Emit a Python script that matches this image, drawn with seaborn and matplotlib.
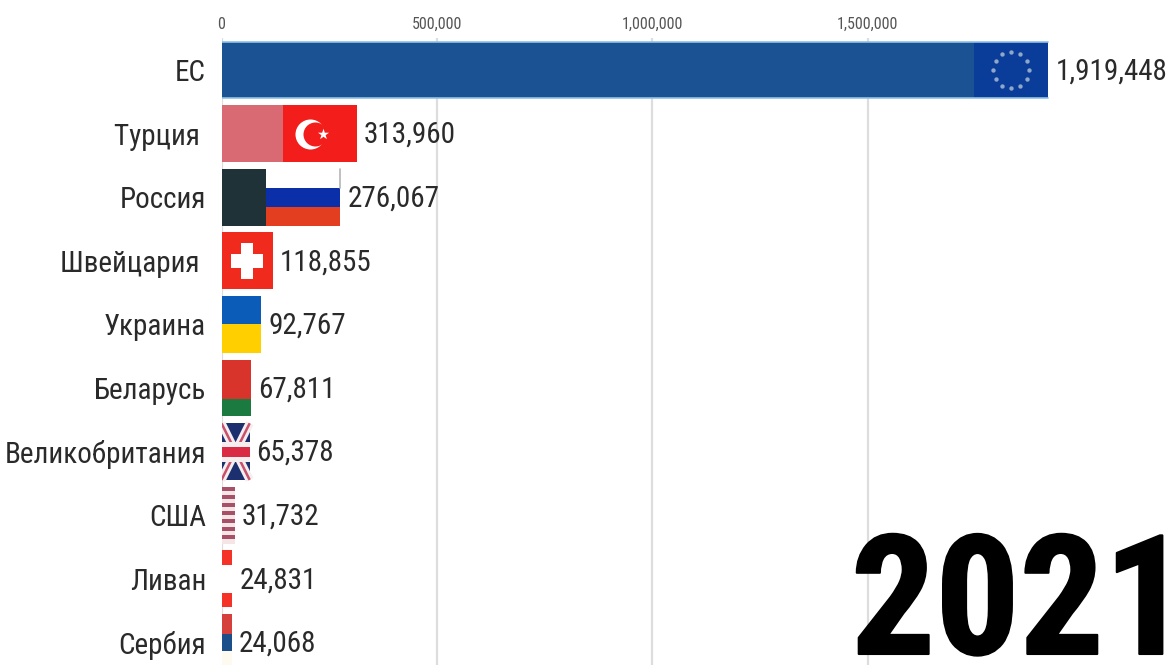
import numpy as np
import pandas as pd
import matplotlib
matplotlib.use("Agg")
import matplotlib.pyplot as plt
import matplotlib.patheffects as pe
from matplotlib.patches import Rectangle
import seaborn as sns

countries = ["ЕС", "Турция ", "Россия", "Швейцария ", "Украина", "Беларусь",
             "Великобритания", "США", "Ливан", "Сербия"]
values = [1919448, 313960, 276067, 118855, 92767, 67811, 65378, 31732, 24831, 24068]
base_colors = ["#1a5294", "#d96a74", "#1f3238", "#f02a1c", "#0a5cb8", "#d9342b",
               "#1c2f6e", "#f4e6e6", "#ffffff", "#d6403a"]
ticks = [0, 500000, 1000000, 1500000]
year_label = "2021"

# stripes of each flag: (top fraction, bottom fraction, colour)
stripes = {
    "ЕС": [(0, 1, "#0a3c9a")],
    "Турция ": [(0, 1, "#f31d1c")],
    "Россия": [(0, 1/3, "#ffffff"), (1/3, 2/3, "#0b2fa8"), (2/3, 1, "#e33e20")],
    "Швейцария ": [(0, 1, "#f02a1c")],
    "Украина": [(0, .5, "#0a5cb8"), (.5, 1, "#ffcf00")],
    "Беларусь": [(0, .69, "#d9342b"), (.69, 1, "#1a7a40")],
    "США": [(k / 7, (k + .5) / 7, "#a85068") for k in range(7)],
    "Ливан": [(0, .25, "#f53228"), (.25, .75, "#ffffff"), (.75, 1, "#f53228")],
    "Сербия": [(0, .35, "#d6403a"), (.35, .65, "#1b4f8a"), (.65, 1, "#fffaf0")],
}

W, H = 1172, 665
TOP, ROW, X0, PX_PER_500K = 38, 63.6, 221.5, 215.4
FLAG_PX, BAR_H = 74, 0.89
FONT = ["Roboto Condensed", "Roboto", "DejaVu Sans"]

sns.set_style("white")
plt.rcParams["font.family"] = FONT

fig = plt.figure(figsize=(W / 100, H / 100), dpi=100)
ax = fig.add_axes([X0 / W, 0, 1 - X0 / W, 1 - TOP / H])
unit = 500000 / PX_PER_500K  # data units per pixel
df = pd.DataFrame({"country": countries, "value": values})
sns.barplot(data=df, x="value", y="country", hue="country", palette=base_colors,
            dodge=False, legend=False, width=BAR_H, ax=ax, zorder=2, saturation=1, linewidth=0)
ax.set_xlim(0, (W - X0) * unit)
ax.set_ylim((H - 70) / ROW, (TOP - 70) / ROW)
ax.set_xlabel(""); ax.set_ylabel("")
for s in ax.spines.values():
    s.set_visible(False)
ax.set_xticks(ticks)
ax.set_xticklabels([f"{t:,}" for t in ticks])
ax.xaxis.tick_top()
ax.tick_params(axis="x", length=0, labelsize=11.5, labelcolor="#555555", pad=4.5)
ax.tick_params(axis="y", length=0, labelsize=21, labelcolor="#2a2a2a", pad=11)
ax.grid(axis="x", color="#dddddd", lw=1.6, zorder=0)
ax.set_axisbelow(True)

def flag_xy(i, u, v):
    """Map flag-relative (u, v) into data coordinates for row i."""
    val = values[i]
    w = min(FLAG_PX * unit, val)
    return val - w + u * w, i - BAR_H / 2 + v * BAR_H

for i, (name, val) in enumerate(zip(countries, values)):
    w = min(FLAG_PX * unit, val)
    for a, b, c in stripes.get(name, []):
        ax.barh(i - BAR_H / 2 + (a + b) / 2 * BAR_H, w, (b - a) * BAR_H, left=val - w,
                color=c, zorder=3, linewidth=0)
    ax.annotate(f"{val:,}", (val, i), xytext=(5, -1), textcoords="offset points",
                va="center", ha="left", fontsize=21, color="#2a2a2a", zorder=5)

# EU outline and stars
i = 0
ax.plot([0, values[0]], [i - BAR_H / 2] * 2, color="#8fc1e3", lw=1.2, zorder=4)
ax.plot([0, values[0]], [i + BAR_H / 2] * 2, color="#8fc1e3", lw=1.2, zorder=4)
cx, cy = flag_xy(0, .5, .5)
ang = np.arange(12) * np.pi / 6
ax.scatter(cx + 18 * unit * np.cos(ang), cy + 18 / ROW * np.sin(ang), s=10, marker="o",
           color="#8fa7c8", linewidths=0, zorder=4)

# Turkey: crescent and star
i = 1
cx, cy = flag_xy(i, .365, .5)
ax.scatter([cx], [cy], s=467, color="white", linewidths=0, zorder=4)
ax.scatter([cx + 5 * unit], [cy], s=299, color="#f31d1c", linewidths=0, zorder=5)
ax.scatter([cx + 13 * unit], [cy], s=70, marker="*", color="white", linewidths=0, zorder=6)

# Russia: thin grey edge of the white stripe
i = 2
ax.plot([values[i]] * 2, [i - BAR_H / 2, i - BAR_H / 2 + BAR_H / 3], color="#b5b5b5", lw=1.2, zorder=4)

# Switzerland: cross
i = 3
cx, cy = flag_xy(i, .5, .5)
ax.barh(cy, 32 * unit, 0.22, left=cx - 16 * unit, color="white", zorder=4, linewidth=0)
ax.barh(cy, 12 * unit, 0.57, left=cx - 6 * unit, color="white", zorder=4, linewidth=0)

# UK
i = 6
clip = Rectangle(flag_xy(i, 0, 0), values[i], BAR_H, transform=ax.transData)
for (u0, v0, u1, v1) in [(0, 0, 1, 1), (0, 1, 1, 0)]:
    (x0, y0), (x1, y1) = flag_xy(i, u0, v0), flag_xy(i, u1, v1)
    ax.plot([x0, x1], [y0, y1], color="#f4eeee", lw=6, zorder=4, clip_path=clip, solid_capstyle="butt")
    ax.plot([x0, x1], [y0, y1], color="#c9506a", lw=1.8, zorder=5, clip_path=clip, solid_capstyle="butt")
ax.barh(i, values[i], BAR_H * .35, color="#f4eeee", zorder=6, linewidth=0)
ax.barh(i, values[i], BAR_H * .18, color="#d92c44", zorder=7, linewidth=0)

fig.text(851 / W, 1 - 654 / H, year_label, ha="left", va="baseline", fontsize=120,
         color="black", fontweight="bold", zorder=10,
         path_effects=[pe.withStroke(linewidth=1.5, foreground="black")])

fig.savefig("out.png", dpi=100, facecolor="white")
